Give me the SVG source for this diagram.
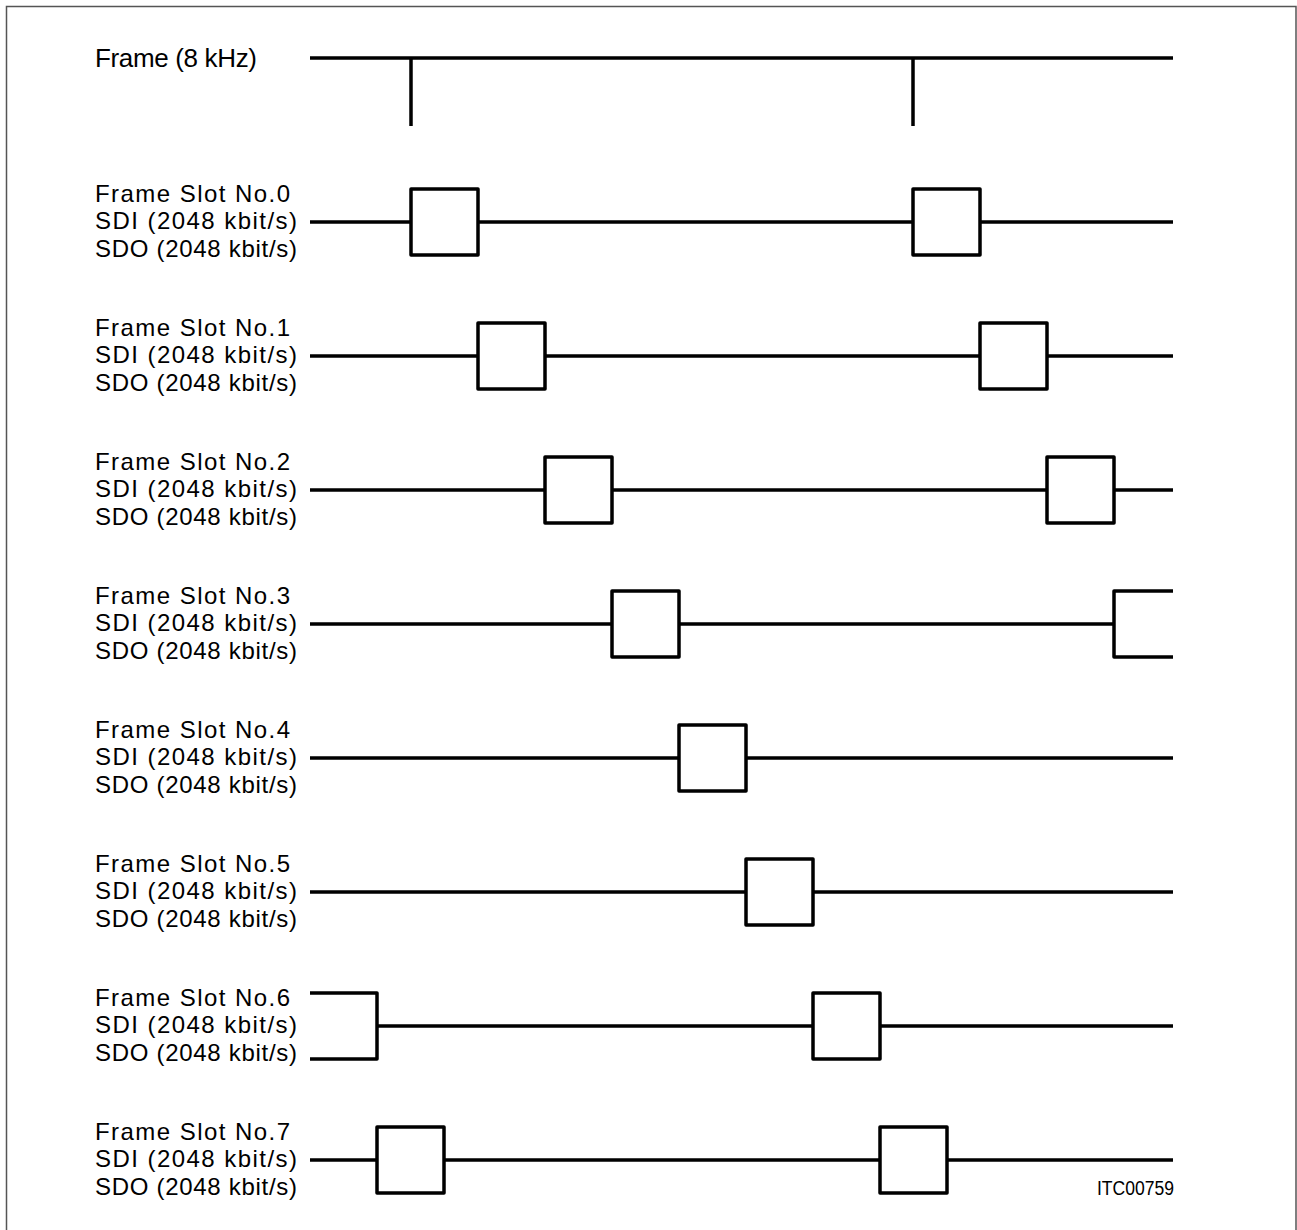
<svg xmlns="http://www.w3.org/2000/svg" width="1297" height="1230" viewBox="0 0 1297 1230">
<style>
.w{fill:none;stroke:#000;stroke-width:3.5;stroke-linejoin:round;stroke-linecap:butt}
.t{font-family:"Liberation Sans",Arial,sans-serif;font-size:24px;fill:#000}
.h{font-family:"Liberation Sans",Arial,sans-serif;font-size:26px;fill:#000}
.id{font-family:"Liberation Sans Narrow","Liberation Sans",Arial,sans-serif;font-size:20px;fill:#000}
</style>
<rect width="1297" height="1230" fill="#fff"/>
<path d="M6.5,1230 V6.5 H1296 V1230" fill="none" stroke="#555" stroke-width="1.5"/>
<g id="frame">
<text class="h" x="95" y="67" textLength="162" lengthAdjust="spacing">Frame (8 kHz)</text>
<path class="w" d="M310,58 H1173 M411,58 V126 M913,58 V126"/>
</g>
<g id="slot0">
<text class="t" x="95" y="202" textLength="195" lengthAdjust="spacing">Frame  Slot  No.0</text>
<text class="t" x="95" y="229" textLength="202" lengthAdjust="spacing">SDI  (2048 kbit/s)</text>
<text class="t" x="95" y="257" textLength="202" lengthAdjust="spacing">SDO (2048 kbit/s)</text>
<path class="w" d="M310,222 H411 M478,222 H913 M980,222 H1173"/>
<rect class="w" x="411" y="189" width="67" height="66"/>
<rect class="w" x="913" y="189" width="67" height="66"/>
</g>
<g id="slot1">
<text class="t" x="95" y="336" textLength="195" lengthAdjust="spacing">Frame  Slot  No.1</text>
<text class="t" x="95" y="363" textLength="202" lengthAdjust="spacing">SDI  (2048 kbit/s)</text>
<text class="t" x="95" y="391" textLength="202" lengthAdjust="spacing">SDO (2048 kbit/s)</text>
<path class="w" d="M310,356 H478 M545,356 H980 M1047,356 H1173"/>
<rect class="w" x="478" y="323" width="67" height="66"/>
<rect class="w" x="980" y="323" width="67" height="66"/>
</g>
<g id="slot2">
<text class="t" x="95" y="470" textLength="195" lengthAdjust="spacing">Frame  Slot  No.2</text>
<text class="t" x="95" y="497" textLength="202" lengthAdjust="spacing">SDI  (2048 kbit/s)</text>
<text class="t" x="95" y="525" textLength="202" lengthAdjust="spacing">SDO (2048 kbit/s)</text>
<path class="w" d="M310,490 H545 M612,490 H1047 M1114,490 H1173"/>
<rect class="w" x="545" y="457" width="67" height="66"/>
<rect class="w" x="1047" y="457" width="67" height="66"/>
</g>
<g id="slot3">
<text class="t" x="95" y="604" textLength="195" lengthAdjust="spacing">Frame  Slot  No.3</text>
<text class="t" x="95" y="631" textLength="202" lengthAdjust="spacing">SDI  (2048 kbit/s)</text>
<text class="t" x="95" y="659" textLength="202" lengthAdjust="spacing">SDO (2048 kbit/s)</text>
<path class="w" d="M310,624 H612 M679,624 H1114"/>
<rect class="w" x="612" y="591" width="67" height="66"/>
<path class="w" d="M1173,591 H1114 V657 H1173"/>
</g>
<g id="slot4">
<text class="t" x="95" y="738" textLength="195" lengthAdjust="spacing">Frame  Slot  No.4</text>
<text class="t" x="95" y="765" textLength="202" lengthAdjust="spacing">SDI  (2048 kbit/s)</text>
<text class="t" x="95" y="793" textLength="202" lengthAdjust="spacing">SDO (2048 kbit/s)</text>
<path class="w" d="M310,758 H679 M746,758 H1173"/>
<rect class="w" x="679" y="725" width="67" height="66"/>
</g>
<g id="slot5">
<text class="t" x="95" y="872" textLength="195" lengthAdjust="spacing">Frame  Slot  No.5</text>
<text class="t" x="95" y="899" textLength="202" lengthAdjust="spacing">SDI  (2048 kbit/s)</text>
<text class="t" x="95" y="927" textLength="202" lengthAdjust="spacing">SDO (2048 kbit/s)</text>
<path class="w" d="M310,892 H746 M813,892 H1173"/>
<rect class="w" x="746" y="859" width="67" height="66"/>
</g>
<g id="slot6">
<text class="t" x="95" y="1006" textLength="195" lengthAdjust="spacing">Frame  Slot  No.6</text>
<text class="t" x="95" y="1033" textLength="202" lengthAdjust="spacing">SDI  (2048 kbit/s)</text>
<text class="t" x="95" y="1061" textLength="202" lengthAdjust="spacing">SDO (2048 kbit/s)</text>
<path class="w" d="M310,993 H377 V1059 H310 M377,1026 H813 M880,1026 H1173"/>
<rect class="w" x="813" y="993" width="67" height="66"/>
</g>
<g id="slot7">
<text class="t" x="95" y="1140" textLength="195" lengthAdjust="spacing">Frame  Slot  No.7</text>
<text class="t" x="95" y="1167" textLength="202" lengthAdjust="spacing">SDI  (2048 kbit/s)</text>
<text class="t" x="95" y="1195" textLength="202" lengthAdjust="spacing">SDO (2048 kbit/s)</text>
<path class="w" d="M310,1160 H377 M444,1160 H880 M947,1160 H1173"/>
<rect class="w" x="377" y="1127" width="67" height="66"/>
<rect class="w" x="880" y="1127" width="67" height="66"/>
</g>
<text class="id" x="1097" y="1195" textLength="77" lengthAdjust="spacingAndGlyphs">ITC00759</text>
</svg>
